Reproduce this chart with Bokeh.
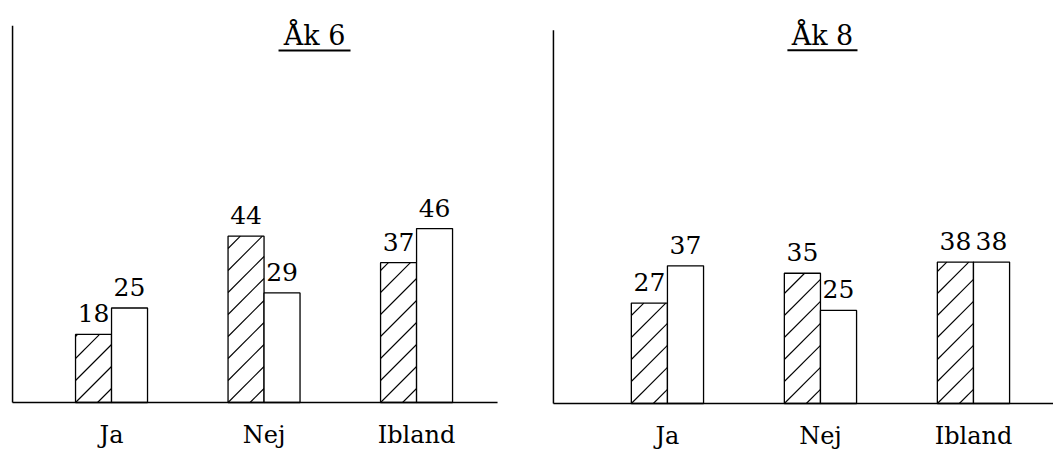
from bokeh.plotting import figure
from bokeh.layouts import row
from bokeh.models import Range1d
from bokeh.core.properties import value
from bokeh.embed import file_html
from bokeh.resources import INLINE

# ---- data ----
categories = ["Ja", "Nej", "Ibland"]
ak6_hatched = [18, 44, 37]
ak6_white = [25, 29, 46]
ak8_hatched = [27, 35, 38]
ak8_white = [37, 25, 38]
panel_titles = ["Åk 6", "Åk 8"]

FONT = "DejaVu Serif"
BAR_W = 0.236
HEIGHT = 450
HATCH_SPACING = 22  # px between 45-degree hatch lines (vertical distance)


def hatch_segments(lefts, tops, width, xppu, yppu, spacing):
    """45-degree hatch lines clipped to each bar rectangle (computed from bar data)."""
    x0s, y0s, x1s, y1s = [], [], [], []
    for L, T in zip(lefts, tops):
        W = width * xppu
        H = T * yppu
        c = -W + (W % spacing)
        k = -int(W // spacing) - 1
        while k * spacing < H:
            c = k * spacing
            u0 = max(0.0, -c)
            u1 = min(W, H - c)
            if u1 > u0:
                x0s.append(L + u0 / xppu)
                y0s.append((u0 + c) / yppu)
                x1s.append(L + u1 / xppu)
                y1s.append((u1 + c) / yppu)
            k += 1
    return x0s, y0s, x1s, y1s


def panel(title, hatched, white, width, xr, yr, axis_x, axis_top, base_end,
          title_x, title_y, ul_x0, ul_x1, ul_y, cat_off):
    p = figure(width=width, height=HEIGHT, x_range=Range1d(*xr), y_range=Range1d(*yr),
               x_axis_type=None, y_axis_type=None, output_backend="svg",
               toolbar_location=None, min_border=0, outline_line_color=None,
               background_fill_color="white", border_fill_color="white")
    xppu = width / (xr[1] - xr[0])
    yppu = HEIGHT / (yr[1] - yr[0])
    idx = list(range(len(categories)))
    xs_h = [i - BAR_W / 2 for i in idx]
    xs_w = [i + BAR_W / 2 for i in idx]
    p.vbar(x=xs_h, top=hatched, bottom=0, width=BAR_W, fill_color="white",
           line_color="black", line_width=1.3)
    hx0, hy0, hx1, hy1 = hatch_segments([x - BAR_W / 2 for x in xs_h], hatched,
                                        BAR_W, xppu, yppu, HATCH_SPACING)
    p.segment(x0=hx0, y0=hy0, x1=hx1, y1=hy1, line_color="black", line_width=1.1)
    p.vbar(x=xs_w, top=white, bottom=0, width=BAR_W, fill_color="white",
           line_color="black", line_width=1.3)
    # axis lines
    p.segment(x0=[axis_x, axis_x], y0=[0, 0], x1=[axis_x, base_end], y1=[axis_top, 0],
              line_color="black", line_width=1.5)
    # value labels
    vals = list(hatched) + list(white)
    p.text(x=xs_h + xs_w, y=vals, text=[str(v) for v in vals],
           text_font=value(FONT), text_font_size="25px", text_align="center",
           text_baseline="middle", y_offset=-21, text_color="black")
    # category labels
    p.text(x=idx, y=[0] * len(idx), text=categories, text_font=value(FONT),
           text_font_size="24px", text_align="center", text_baseline="middle",
           y_offset=cat_off, text_color="black")
    # title with underline
    p.text(x=[title_x], y=[title_y], text=[title], text_font=value(FONT),
           text_font_size="27px", text_align="center", text_baseline="middle",
           text_color="black")
    p.line(x=[ul_x0, ul_x1], y=[ul_y, ul_y], line_color="black", line_width=2)
    return p


left = panel(panel_titles[0], ak6_hatched, ak6_white, 528,
             (-0.728, 2.734), (-12.7, 106.35), -0.649, 99.7, 2.531,
             1.331, 97.1, 1.095, 1.567, 93.1, 33)
right = panel(panel_titles[1], ak8_hatched, ak8_white, 525,
              (-0.908, 2.523), (-12.63, 108.3), -0.745, 100.3, 2.523,
              1.013, 98.9, 0.784, 1.242, 94.9, 32)

layout = row(left, right)
open("out.html", "w").write(file_html(layout, INLINE))
